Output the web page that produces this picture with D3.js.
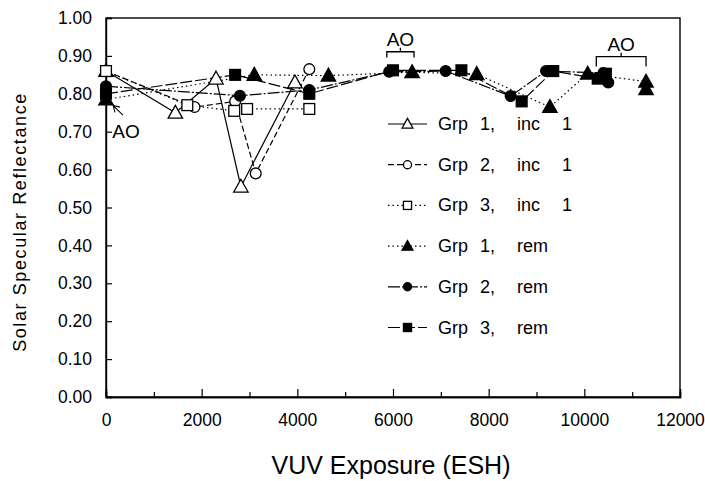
<!DOCTYPE html>
<html><head><meta charset="utf-8">
<script src="https://cdn.jsdelivr.net/npm/d3@7"></script>
<style>
body{margin:0;background:#fff;}
text{font-family:"Liberation Sans",Arial,sans-serif;fill:#000;}
</style></head>
<body><svg id="c" width="705" height="481"></svg>
<script>
// ---- data ----
const seriesNames = ["Grp 1, inc 1","Grp 2, inc 1","Grp 3, inc 1","Grp 1, rem","Grp 2, rem","Grp 3, rem"];
const grp1inc = [[0,0.86],[1450,0.75],[2300,0.84],[2820,0.555],[3950,0.83]];
const grp2inc = [[0,0.86],[1850,0.765],[2700,0.78],[3130,0.59],[4250,0.865]];
const grp3inc = [[0,0.86],[1700,0.77],[2680,0.755],[2950,0.76],[4250,0.76]];
const grp1rem = [[0,0.785],[3100,0.85],[4650,0.848],[6400,0.857],[7750,0.852],[9280,0.765],[10070,0.853],[11290,0.832],[11290,0.812]];
const grp2rem = [[0,0.82],[2800,0.795],[4250,0.81],[5920,0.858],[7100,0.86],[8460,0.794],[9200,0.86],[10400,0.855],[10500,0.83]];
const grp3rem = [[0,0.80],[2700,0.85],[4250,0.80],[6000,0.862],[7430,0.862],[8690,0.78],[9350,0.86],[10280,0.84],[10450,0.853]];
const xTicks = [0,2000,4000,6000,8000,10000,12000];
const xMinorTicks = [1000,3000,5000,7000,9000,11000];
const yTicks = [0,0.1,0.2,0.3,0.4,0.5,0.6,0.7,0.8,0.9,1.0];
const aoBrackets = [[5870,6440,0.911,0.896],[10250,11290,0.898,0.872]];
const aoLeft = {x:420,y:0.683,ax0:355,ay0:0.744,ax1:150,ay1:0.769};

// ---- styles ----
const styles = [
  {sym:"tri", fill:"#fff", dash:null},
  {sym:"circ", fill:"#fff", dash:"6,3"},
  {sym:"sq", fill:"#fff", dash:"1.5,3"},
  {sym:"tri", fill:"#000", dash:"1.5,3"},
  {sym:"circ", fill:"#000", dash:"12,2,2,2"},
  {sym:"sq", fill:"#000", dash:"12,3"}
];
const allData = [grp1inc,grp2inc,grp3inc,grp1rem,grp2rem,grp3rem];

const svg = d3.select("#c");
const x = d3.scaleLinear().domain([0,12000]).range([106,680]);
const y = d3.scaleLinear().domain([0,1]).range([397,18]);

// frame
svg.append("rect").attr("x",106).attr("y",18).attr("width",574).attr("height",379)
  .attr("fill","none").attr("stroke","#000").attr("stroke-width",1.4);

// axes
const xAxis = d3.axisBottom(x).tickValues(xTicks).tickSize(-8).tickPadding(17).tickFormat(d3.format("d"));
const gx = svg.append("g").attr("transform","translate(0,397)").call(xAxis);
const gxm = svg.append("g").attr("transform","translate(0,397)")
  .call(d3.axisBottom(x).tickValues(xMinorTicks).tickSize(-5).tickFormat(""));
const yAxis = d3.axisLeft(y).tickValues(yTicks).tickSize(-6).tickPadding(14).tickFormat(d3.format(".2f"));
const gy = svg.append("g").attr("transform","translate(106,0)").call(yAxis);
[gx,gxm,gy].forEach(g=>{
  g.select(".domain").attr("stroke-width",1.4);
  g.selectAll(".tick line").attr("stroke-width",1.2);
  g.selectAll("text").attr("font-size",17.5).attr("font-family","Liberation Sans, Arial, sans-serif").attr("fill","#000");
});

// titles
svg.append("text").attr("x",391).attr("y",474).attr("text-anchor","middle").attr("font-size",25).text("VUV Exposure (ESH)");
svg.append("text").attr("transform","translate(26,222) rotate(-90)").attr("text-anchor","middle")
  .attr("font-size",18).attr("letter-spacing",1.6).text("Solar Specular Reflectance");

// lines
const line = d3.line().x(d=>x(d[0])).y(d=>y(d[1]));
allData.forEach((data,i)=>{
  svg.append("path").datum(data).attr("d",line).attr("fill","none").attr("stroke","#000")
    .attr("stroke-width",1.2).attr("stroke-dasharray",styles[i].dash);
});

function marker(g, sym, fill, cx, cy, s){
  if(sym==="tri"){
    g.append("path").attr("d",`M${cx},${cy-s*0.62} L${cx+s*0.6},${cy+s*0.45} L${cx-s*0.6},${cy+s*0.45} Z`)
      .attr("fill",fill).attr("stroke","#000").attr("stroke-width",1.3);
  } else if(sym==="circ"){
    g.append("circle").attr("cx",cx).attr("cy",cy).attr("r",s*0.45)
      .attr("fill",fill).attr("stroke","#000").attr("stroke-width",1.3);
  } else {
    g.append("rect").attr("x",cx-s*0.45).attr("y",cy-s*0.45).attr("width",s*0.9).attr("height",s*0.9)
      .attr("fill",fill).attr("stroke","#000").attr("stroke-width",1.3);
  }
}
const gm = svg.append("g");
allData.forEach((data,i)=>{
  data.forEach(d=>marker(gm, styles[i].sym, styles[i].fill, x(d[0]), y(d[1]), 12));
});

// AO annotations
aoBrackets.forEach(b=>{
  const x0=x(b[0]), x1=x(b[1]), yt=y(b[2]), yb=y(b[3]), xm=(x0+x1)/2;
  svg.append("path").attr("d",`M${x0},${yb} V${yt} H${x1} V${yb} M${xm},${yt} V${yt-4}`)
    .attr("fill","none").attr("stroke","#000").attr("stroke-width",1.3);
  svg.append("text").attr("x",xm).attr("y",yt-6).attr("text-anchor","middle").attr("font-size",19).text("AO");
});
svg.append("text").attr("x",x(aoLeft.x)).attr("y",y(aoLeft.y)).attr("text-anchor","middle").attr("font-size",19).text("AO");
{
  const ax0=x(aoLeft.ax0), ay0=y(aoLeft.ay0), ax1=x(aoLeft.ax1), ay1=y(aoLeft.ay1);
  const ang=Math.atan2(ay1-ay0, ax1-ax0), L=7;
  svg.append("path").attr("d",`M${ax0},${ay0} L${ax1},${ay1} M${ax1+L*Math.cos(ang+2.6)},${ay1+L*Math.sin(ang+2.6)} L${ax1},${ay1} L${ax1+L*Math.cos(ang-2.6)},${ay1+L*Math.sin(ang-2.6)}`)
    .attr("fill","none").attr("stroke","#000").attr("stroke-width",1.1);
}

// legend
const legY0 = 124, legDy = 40.7;
seriesNames.forEach((name,i)=>{
  const ly = legY0 + i*legDy;
  const lg = svg.append("g");
  lg.append("line").attr("x1",388).attr("x2",427).attr("y1",ly).attr("y2",ly).attr("stroke","#000")
    .attr("stroke-width",1.2).attr("stroke-dasharray",styles[i].dash);
  marker(lg, styles[i].sym, styles[i].fill, 407.5, ly, 9);
  const parts = name.split(" ");
  const ty = ly + 6;
  lg.append("text").attr("x",438).attr("y",ty).attr("font-size",18).text(parts[0]);
  lg.append("text").attr("x",495).attr("y",ty).attr("text-anchor","end").attr("font-size",18).text(parts[1]);
  lg.append("text").attr("x",517).attr("y",ty).attr("font-size",18).text(parts[2]);
  if(parts[3]) lg.append("text").attr("x",562).attr("y",ty).attr("font-size",18).text(parts[3]);
});
</script></body></html>
